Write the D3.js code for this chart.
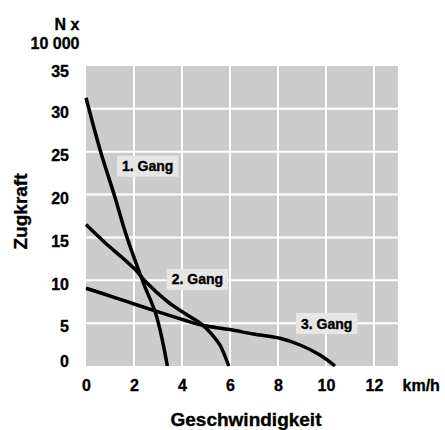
<!DOCTYPE html>
<html>
<head>
<meta charset="utf-8">
<script src="https://cdn.jsdelivr.net/npm/d3@7"></script>
<style>
  html, body { margin: 0; padding: 0; background: #ffffff; }
  svg { display: block; }
  text { font-family: "Liberation Sans", Arial, sans-serif; font-weight: bold; fill: #000; stroke: #000; stroke-width: 0.35px; }
</style>
</head>
<body>
<div id="chart"></div>
<script>
// ---- data ----
const xTicks = [0, 2, 4, 6, 8, 10, 12];
const yTicks = [0, 5, 10, 15, 20, 25, 30, 35];
const gear1X = [0, 0.61, 1.2, 1.65, 2.35, 2.9, 3.18, 3.39];
const gear1Y = [31.3, 25.0, 19.75, 15.5, 10.0, 6.15, 3.03, 0];
const gear2X = [0, 0.75, 2, 2.5, 3.4, 4.1, 4.85, 5.3, 5.58, 5.95];
const gear2Y = [16.5, 14.5, 11.4, 9.8, 7.5, 6.15, 4.8, 3.5, 2.45, 0];
const gear3X = [0, 0.75, 1.72, 2.69, 4.08, 4.85, 6, 6.97, 8.08, 8.92, 9.75, 10.375];
const gear3Y = [9.07, 8.4, 7.5, 6.6, 5.37, 4.75, 4.25, 3.73, 3.23, 2.45, 1.28, 0];
const gearLabels = ["1. Gang", "2. Gang", "3. Gang"];
const gearLabelX = [1.5, 3.57, 8.96];
const gearLabelY = [23.3, 10.1, 4.96];
const xTitle = "Geschwindigkeit";
const yTitle = "Zugkraft";
const xUnit = "km/h";
const yUnit = ["N x", "10 000"];

// ---- layout ----
const W = 445, H = 430;
const m = { left: 86, top: 66, right: 47, bottom: 64 };
const pw = W - m.left - m.right; // 312
const ph = H - m.top - m.bottom; // 300

const x = d3.scaleLinear().domain([0, 13]).range([0, pw]);
const y = d3.scaleLinear().domain([0, 35]).range([ph, 0]);

const svg = d3.select("#chart").append("svg").attr("width", W).attr("height", H);
const g = svg.append("g").attr("transform", `translate(${m.left},${m.top})`);

// background
g.append("rect").attr("width", pw).attr("height", ph).attr("fill", "#cccccc");

// grid
g.selectAll("line.vg").data(xTicks.filter(d => d > 0)).join("line")
  .attr("x1", d => x(d)).attr("x2", d => x(d))
  .attr("y1", 0).attr("y2", ph)
  .attr("stroke", "#ffffff").attr("stroke-width", 2);
g.selectAll("line.hg").data(yTicks.filter(d => d > 0 && d < 35)).join("line")
  .attr("y1", d => y(d)).attr("y2", d => y(d))
  .attr("x1", 0).attr("x2", pw)
  .attr("stroke", "#ffffff").attr("stroke-width", 2);

const font = '"Liberation Sans", Arial, sans-serif';
// axes (labels only)
const xAxis = d3.axisBottom(x).tickValues(xTicks).tickSize(0).tickPadding(0);
const xa = g.append("g").attr("transform", `translate(0,${ph})`).call(xAxis);
xa.select(".domain").remove();
xa.selectAll("text").attr("dy", null).attr("y", 25).style("font-size", "16px")
  .style("font-family", font).style("font-weight", "bold").attr("fill", "#000");

const yAxis = d3.axisLeft(y).tickValues(yTicks).tickSize(0).tickPadding(17);
const ya = g.append("g").call(yAxis);
ya.select(".domain").remove();
ya.selectAll("text").style("font-size", "16px")
  .style("font-family", font).style("font-weight", "bold").attr("fill", "#000")
  .attr("dy", d => d === 35 ? "0.65em" : d === 0 ? "0.05em" : "0.55em");

// curves
const line = d3.line().x(d => x(d[0])).y(d => y(d[1])).curve(d3.curveCatmullRom.alpha(0.5));
const gears = [
  d3.zip(gear1X, gear1Y),
  d3.zip(gear2X, gear2Y),
  d3.zip(gear3X, gear3Y)
];
g.selectAll("path.gear").data(gears).join("path")
  .attr("class", "gear")
  .attr("d", line)
  .attr("fill", "none").attr("stroke", "#000").attr("stroke-width", 3.5)
  .attr("stroke-linecap", "butt");

// gear labels with boxes
gearLabels.forEach((t, i) => {
  const lg = g.append("g");
  const txt = lg.append("text")
    .attr("x", x(gearLabelX[i])).attr("y", y(gearLabelY[i]))
    .attr("dy", "0.36em")
    .style("font-size", "14px")
    .text(t);
  const bb = txt.node().getBBox();
  lg.insert("rect", "text")
    .attr("x", bb.x - 5).attr("y", y(gearLabelY[i]) - 10.5)
    .attr("width", bb.width + 10).attr("height", 21)
    .attr("fill", "#e6e6e6");
});

// titles
svg.append("text").attr("x", 246).attr("y", 426).attr("text-anchor", "middle")
  .style("font-size", "19px").text(xTitle);
svg.append("text").attr("transform", "translate(26.5,211.5) rotate(-90)")
  .attr("text-anchor", "middle").style("font-size", "19px").text(yTitle);
svg.append("text").attr("x", 402.5).attr("y", 391).style("font-size", "16px").text(xUnit);
svg.append("text").attr("x", 79.5).attr("y", 30).attr("text-anchor", "end").style("font-size", "16px").text(yUnit[0]);
svg.append("text").attr("x", 79.5).attr("y", 49).attr("text-anchor", "end").style("font-size", "16px").text(yUnit[1]);
</script>
</body>
</html>
